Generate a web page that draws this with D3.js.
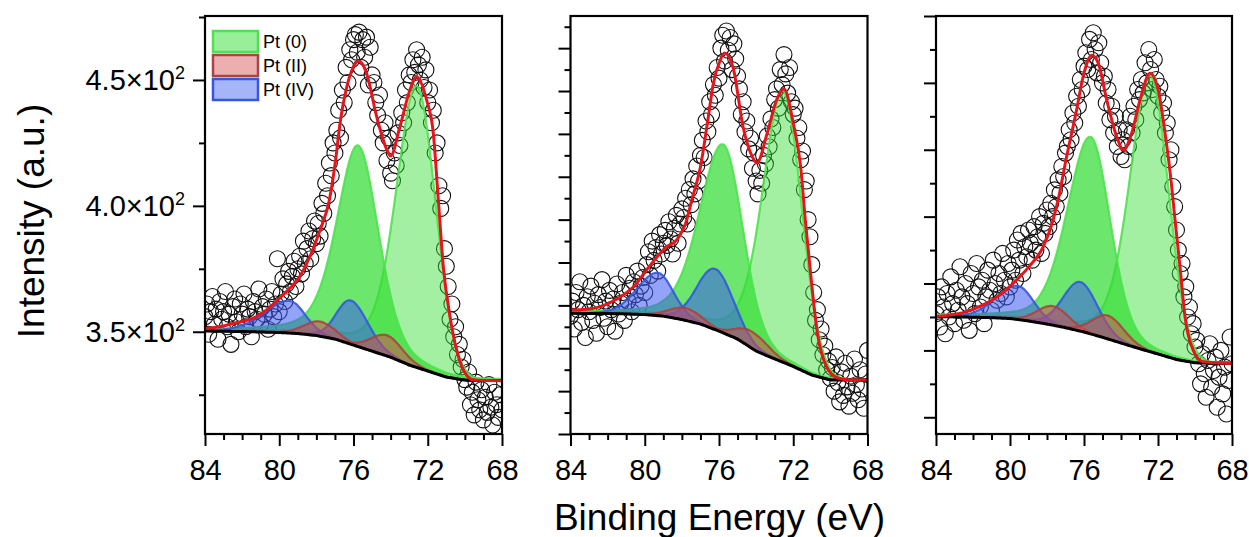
<!DOCTYPE html>
<html><head><meta charset="utf-8">
<script src="https://cdn.jsdelivr.net/npm/d3@7"></script>
<style>
body{margin:0;background:#fff}
svg{display:block}
text{font-family:"Liberation Sans",Arial,sans-serif;fill:#000}
</style>
</head><body>
<svg id="chart" width="1249" height="537"></svg>
<script>
// ---------------- DATA ----------------
const energies = [
84.0,83.9,83.8,83.7,83.6,83.5,83.4,83.3,83.2,83.1,
83.0,82.9,82.8,82.7,82.6,82.5,82.4,82.3,82.2,82.1,
82.0,81.9,81.8,81.7,81.6,81.5,81.4,81.3,81.2,81.1,
81.0,80.9,80.8,80.7,80.6,80.5,80.4,80.3,80.2,80.1,
80.0,79.9,79.8,79.7,79.6,79.5,79.4,79.3,79.2,79.1,
79.0,78.9,78.8,78.7,78.6,78.5,78.4,78.3,78.2,78.1,
78.0,77.9,77.8,77.7,77.6,77.5,77.4,77.3,77.2,77.1,
77.0,76.9,76.8,76.7,76.6,76.5,76.4,76.3,76.2,76.1,
76.0,75.9,75.8,75.7,75.6,75.5,75.4,75.3,75.2,75.1,
75.0,74.9,74.8,74.7,74.6,74.5,74.4,74.3,74.2,74.1,
74.0,73.9,73.8,73.7,73.6,73.5,73.4,73.3,73.2,73.1,
73.0,72.9,72.8,72.7,72.6,72.5,72.4,72.3,72.2,72.1,
72.0,71.9,71.8,71.7,71.6,71.5,71.4,71.3,71.2,71.1,
71.0,70.9,70.8,70.7,70.6,70.5,70.4,70.3,70.2,70.1,
70.0,69.9,69.8,69.7,69.6,69.5,69.4,69.3,69.2,69.1,
69.0,68.9,68.8,68.7,68.6,68.5,68.4,68.3,68.2,68.1,
68.0];

// measured intensities (84.0 -> 68.0 eV)
const p1Counts = [
356,361,349,358,364,353,359,347,362,355,
358,366,352,357,345,360,363,354,350,361,
357,365,352,359,356,348,362,358,355,367,
353,360,357,363,351,359,366,356,361,379,
358,
365,371,362,369,374,366,372,378,368,375,
380,373,386,377,383,390,379,387,394,385,
393,388,401,397,409,404,417,412,425,421,
430,438,427,446,441,455,449,462,458,466,
468,461,469,455,466,459,467,448,463,452,
449,441,436,444,430,425,433,418,427,413,
410,421,416,429,424,437,433,446,441,452,
449,458,453,462,456,450,459,447,454,441,
446,433,438,421,425,408,399,404,383,376,
368,355,361,348,352,341,345,336,339,331,
328,334,321,326,317,330,323,319,327,315,
324,318,329,320,313,326,321,316,325,319];

const p2Counts = [
355,362,349,366,358,371,352,360,345,364,
357,369,353,361,347,365,359,372,354,362,
350,367,358,363,348,370,356,361,366,353,
374,362,368,357,371,365,376,360,369,373,
366,
379,385,374,390,381,387,376,393,384,389,
395,388,399,391,384,396,402,389,398,405,
401,410,398,414,407,419,412,425,418,430,
437,429,446,441,455,449,463,458,471,466,
480,486,474,488,479,485,470,482,475,467,
461,449,455,441,446,433,438,424,431,418,
412,423,417,430,426,439,434,447,443,456,
461,452,470,463,477,468,459,471,455,449,
452,438,443,428,432,414,418,400,392,379,
366,353,358,344,349,337,341,330,334,326,
331,320,336,324,315,329,318,333,322,313,
327,319,335,323,316,330,321,312,328,339];

const p3Counts = [
331,336,327,339,333,325,337,330,342,334,
328,338,332,345,336,329,340,334,326,343,
337,331,346,339,333,341,328,336,344,338,
332,347,340,335,343,337,349,341,336,346,
339,
344,350,341,353,347,355,343,351,348,356,
352,347,357,350,354,360,349,358,355,362,
357,364,360,368,363,371,367,375,372,379,
381,386,383,391,388,396,393,401,398,405,
409,404,413,407,415,410,403,412,406,400,
402,394,398,389,393,385,390,381,386,378,
383,377,386,381,390,385,393,389,398,395,
401,397,406,400,410,404,398,407,401,396,
399,391,394,385,388,377,380,369,363,356,
350,343,346,336,339,330,333,325,328,321,
323,316,310,319,313,306,317,322,309,314,
318,303,312,320,307,315,301,311,324,316];

// fitted envelope
const p1FitE = [84,83,82.5,81.4,80.7,79.8,78.9,78.35,77.8,77.3,77.0,76.7,76.4,76.0,75.7,75.3,74.75,74.2,74.0,73.5,72.96,72.6,72.06,71.7,71.43,71.16,70.8,70.44,70.08,69.54,68];
const p1FitI = [351.3,352.3,353.3,355.4,358.6,364.6,371.9,379.8,390.4,402.3,416.2,434.1,446.0,455.3,457.5,452.7,435.4,422.2,419.8,431.4,446.0,451.3,442.0,428.8,402.3,375.8,356.0,342.7,334.8,330.8,330.5];
const p2FitE = [84,83.98,83,82.4,81.5,80.6,79.7,78.82,78.28,77.74,77.47,77.0,76.6,76.3,75.95,75.7,75.25,74.7,74.2,73.96,73.4,72.9,72.5,72.0,71.6,71.35,71.1,70.7,70.2,69.6,68.9,68];
const p2FitI = [363.5,357.8,358.3,359.4,363.0,368.7,378.8,387.4,390.5,399.8,409.1,424.5,446.5,463.7,474.0,477.7,471.2,443.2,429.2,426.4,440.4,455.8,460.9,445.1,424.5,399.8,377.9,347.1,331.3,326.1,325.2,325.2];
const p3FitE = [84,82.34,81.45,80.54,79.64,78.9,78.2,77.67,77.4,76.94,76.4,76.05,75.58,75.23,74.77,74.23,73.87,73.42,72.97,72.43,71.99,71.62,71.26,71.08,70.81,70.54,70.1,69.56,68];
const p3FitI = [330.1,331.6,333.6,336.6,341.1,345.5,351.0,359.0,365.0,377.9,391.9,401.8,408.3,405.9,394.9,383.9,379.9,385.0,394.9,402.9,397.9,385.0,369.0,359.0,345.0,330.1,320.1,316.6,316.1];

// Shirley-type background (black curves)
const bgEnergies = [84,83,82,81,80,79,78,77,76,75,74,73,72,71,70,69,68];
const p1BgI = [350.3,350.2,350.1,349.9,349.7,349.3,348.5,347.1,344.7,342.3,339.9,336.8,334.4,332.0,330.8,330.6,330.6];
const p2BgI = [356.3,356.25,356.2,356.0,355.7,355.0,353.4,351.3,348.0,344.3,338.7,335.0,331.5,327.5,325.2,325.2,325.2];
const p3BgI = [330.08,330.02,329.93,329.78,329.54,328.79,327.89,326.79,325.5,323.92,322.21,320.51,318.92,317.28,316.29,316.14,316.14];

// fitted components: state, centre (eV), height, FWHM and Lorentz fraction on the high-BE (L) and low-BE (R) side
const p1Peaks = [
 {state:"Pt (0)",  c:72.6,  h:112, wL:2.6, wR:2.4, etaL:0.3, etaR:0.0},
 {state:"Pt (0)",  c:75.75, h:80,  wL:2.7, wR:2.6, etaL:0.4, etaR:0.3},
 {state:"Pt (IV)", c:76.15, h:17.4,wL:1.8, wR:2.2, etaL:0.1, etaR:0.1},
 {state:"Pt (IV)", c:79.45, h:12.8,wL:3.2, wR:2.0, etaL:0.2, etaR:0.1},
 {state:"Pt (II)", c:77.8,  h:5.8, wL:2.0, wR:2.0, etaL:0.1, etaR:0.1},
 {state:"Pt (II)", c:74.2,  h:8.2, wL:2.0, wR:2.0, etaL:0.1, etaR:0.1}];
const p2Peaks = [
 {state:"Pt (0)",  c:72.55, h:127, wL:2.6, wR:2.35,etaL:0.3, etaR:0.0},
 {state:"Pt (0)",  c:75.77, h:88,  wL:3.0, wR:2.5, etaL:0.3, etaR:0.2},
 {state:"Pt (IV)", c:76.2,  h:28.4,wL:2.3, wR:2.3, etaL:0.1, etaR:0.1},
 {state:"Pt (IV)", c:79.3,  h:20,  wL:2.6, wR:2.0, etaL:0.1, etaR:0.1},
 {state:"Pt (II)", c:77.8,  h:5.8, wL:2.0, wR:2.0, etaL:0.1, etaR:0.1},
 {state:"Pt (II)", c:74.2,  h:7.8, wL:2.0, wR:2.0, etaL:0.1, etaR:0.1}];
const p3Peaks = [
 {state:"Pt (0)",  c:72.43, h:82.8,wL:2.6, wR:2.35,etaL:0.3, etaR:0.0},
 {state:"Pt (0)",  c:75.64, h:59,  wL:3.0, wR:2.5, etaL:0.3, etaR:0.2},
 {state:"Pt (IV)", c:76.2,  h:14.7,wL:2.2, wR:2.2, etaL:0.1, etaR:0.1},
 {state:"Pt (IV)", c:79.57, h:10.1,wL:2.8, wR:2.0, etaL:0.1, etaR:0.1},
 {state:"Pt (II)", c:77.67, h:5.7, wL:2.0, wR:2.0, etaL:0.1, etaR:0.1},
 {state:"Pt (II)", c:74.7,  h:7.0, wL:2.0, wR:2.0, etaL:0.1, etaR:0.1}];

const legendStates = ["Pt (0)","Pt (II)","Pt (IV)"];
const xMajorTicks = [84,80,76,72,68];
const xMinorTicks = [83,82,81,79,78,77,75,74,73,71,70,69];
const p1YMajor = [350,400,450];
const p1YMinor = [325,375,425,475];
const p2YMajor = [300,320,340,360,380,400,420,440,460,480];
const p2YMinor = [310,330,350,370,390,410,430,450,470,490];
const p3YMajor = [300,320,340,360,380,400,420];
const p3YMinor = [310,330,350,370,390,410];

// ---------------- STYLE / LAYOUT ----------------
const styles = {
 "Pt (0)":  {fill:"#33dd33", stroke:"#4ee24e"},
 "Pt (II)": {fill:"#d44c4c", stroke:"#a84444"},
 "Pt (IV)": {fill:"#3a58f0", stroke:"#3556e2"}
};
const TOP = 16, BOTTOM = 434, H = BOTTOM - TOP;
const panels = [
 {left:205,   width:297, domain:[309.4,475.4], major:p1YMajor, minor:p1YMinor, counts:p1Counts, fitE:p1FitE, fitI:p1FitI, bgI:p1BgI, peaks:p1Peaks, labels:true,  legend:true},
 {left:570.5, width:297, domain:[300,495],     major:p2YMajor, minor:p2YMinor, counts:p2Counts, fitE:p2FitE, fitI:p2FitI, bgI:p2BgI, peaks:p2Peaks, labels:false, legend:false},
 {left:936,   width:296, domain:[295,420],     major:p3YMajor, minor:p3YMinor, counts:p3Counts, fitE:p3FitE, fitI:p3FitI, bgI:p3BgI, peaks:p3Peaks, labels:false, legend:false}
];

function pv(e, p){
  const hi = e > p.c;
  const w = hi ? p.wL : p.wR;
  const eta = hi ? p.etaL : p.etaR;
  const t = (e - p.c) / w;
  return p.h * (eta / (1 + 4*t*t) + (1 - eta) * Math.exp(-4*Math.LN2*t*t));
}

const svg = d3.select("#chart");

panels.forEach((p, i) => {
  const g = svg.append("g").attr("transform", `translate(${p.left},${TOP})`);
  const x = d3.scaleLinear().domain([84, 68]).range([0, p.width]);
  const y = d3.scaleLinear().domain(p.domain).range([H, 0]);
  const bgAt = d3.scaleLinear().domain(bgEnergies).range(p.bgI);

  g.append("clipPath").attr("id", "clip" + i)
    .append("rect").attr("width", p.width).attr("height", H);
  const plot = g.append("g").attr("clip-path", `url(#clip${i})`);

  // data points
  plot.append("g").selectAll("circle")
    .data(energies.map((e, k) => [e, p.counts[k]]))
    .join("circle")
    .attr("cx", d => x(d[0])).attr("cy", d => y(d[1])).attr("r", 8)
    .attr("fill", "none").attr("stroke", "#111").attr("stroke-width", 1.1);

  // components
  const area = d3.area().x(d => x(d.e)).y0(d => y(d.b)).y1(d => y(d.t)).curve(d3.curveBasis);
  const line = d3.line().x(d => x(d.e)).y(d => y(d.t)).curve(d3.curveBasis);
  p.peaks.forEach((pk, k) => {
    const st = styles[pk.state];
    const pts = energies.map(e => ({e, b: bgAt(e), t: bgAt(e) + pv(e, pk)}));
    let op = 0.55;
    if (pk.state === "Pt (0)") op = (k === 0) ? 0.45 : 0.72;
    plot.append("path").datum(pts).attr("d", area)
      .attr("fill", st.fill).attr("fill-opacity", op);
    plot.append("path").datum(pts).attr("d", line)
      .attr("fill", "none").attr("stroke", st.stroke).attr("stroke-width", 2.2)
      .attr("stroke-opacity", 0.9);
  });

  // background
  plot.append("path").datum(energies.map(e => [e, bgAt(e)]))
    .attr("d", d3.line().x(d => x(d[0])).y(d => y(d[1])).curve(d3.curveBasis))
    .attr("fill", "none").attr("stroke", "#000").attr("stroke-width", 3);

  // envelope
  plot.append("path").datum(p.fitE.map((e, k) => [e, p.fitI[k]]))
    .attr("d", d3.line().x(d => x(d[0])).y(d => y(d[1])).curve(d3.curveMonotoneX))
    .attr("fill", "none").attr("stroke", "#e8141c").attr("stroke-width", 3);

  // frame
  g.append("rect").attr("width", p.width).attr("height", H)
    .attr("fill", "none").attr("stroke", "#000").attr("stroke-width", 2.2);

  // x axis
  const xa = g.append("g").attr("transform", `translate(0,${H})`)
    .call(d3.axisBottom(x).tickValues(xMajorTicks).tickSize(12).tickPadding(13).tickFormat(d3.format("d")));
  g.append("g").attr("transform", `translate(0,${H})`)
    .call(d3.axisBottom(x).tickValues(xMinorTicks).tickSize(6).tickFormat(""));
  // y axis
  g.append("g").call(d3.axisLeft(y).tickValues(p.major).tickSize(12).tickFormat(""));
  g.append("g").call(d3.axisLeft(y).tickValues(p.minor).tickSize(6).tickFormat(""));

  g.selectAll(".domain").remove();
  g.selectAll(".tick line").attr("stroke", "#000").attr("stroke-width", 2);
  xa.selectAll(".tick text").attr("font-size", 29).attr("font-family", '"Liberation Sans",Arial,sans-serif').attr("fill", "#000");

  if (p.labels) {
    p.major.forEach(v => {
      const t = g.append("text").attr("x", -20).attr("y", y(v) + 10)
        .attr("text-anchor", "end").attr("font-size", 29);
      t.append("tspan").text((v / 100).toFixed(1) + "\u00d710");
      t.append("tspan").attr("font-size", 18).attr("dy", -11).text("2");
    });
  }

  if (p.legend) {
    const lg = g.append("g").attr("transform", "translate(8,15)");
    legendStates.forEach((s, k) => {
      const st = styles[s];
      lg.append("rect").attr("x", 0).attr("y", k * 24).attr("width", 45).attr("height", 21)
        .attr("fill", st.fill).attr("fill-opacity", s === "Pt (0)" ? 0.5 : 0.45)
        .attr("stroke", st.stroke).attr("stroke-width", 2.5);
      lg.append("text").attr("x", 50).attr("y", k * 24 + 17).attr("font-size", 18).text(s);
    });
  }
});

svg.append("text").attr("transform", "translate(31,221) rotate(-90)")
  .attr("text-anchor", "middle").attr("dominant-baseline", "central")
  .attr("font-size", 37).text("Intensity (a.u.)");
svg.append("text").attr("x", 719.5).attr("y", 530)
  .attr("text-anchor", "middle").attr("font-size", 37).text("Binding Energy (eV)");
</script>
</body></html>
